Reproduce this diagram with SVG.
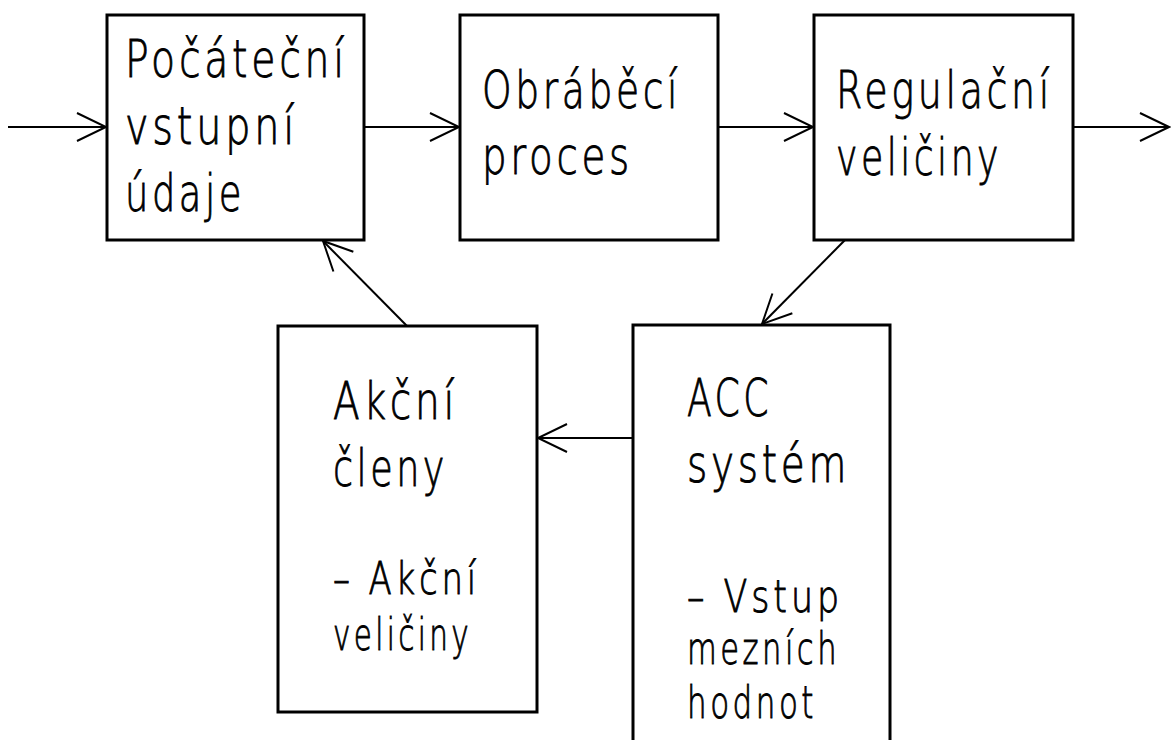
<svg xmlns="http://www.w3.org/2000/svg" width="1171" height="740" viewBox="0 0 1171 740">
<style>
.box{fill:#fff;stroke:#000;stroke-width:3}
.con{fill:none;stroke:#000;stroke-width:2;marker-end:url(#arr)}
text{font-family:"DejaVu Sans",sans-serif;font-weight:200;fill:#000;stroke:#000;stroke-width:0.9;letter-spacing:5px}
.m{font-size:52px}
.s{font-size:44px}
</style>
<defs>
<marker id="arr" markerUnits="userSpaceOnUse" markerWidth="40" markerHeight="40" viewBox="-35 -20 40 40" refX="0" refY="0" orient="auto" overflow="visible">
<path d="M-29,-14 L0,0 L-29,14" fill="none" stroke="#000" stroke-width="2"/>
</marker>
</defs>
<rect width="1171" height="740" fill="#fff"/>
<g id="connectors">
<line class="con" x1="8" y1="127" x2="106" y2="127"/>
<line class="con" x1="364" y1="127" x2="459" y2="127"/>
<line class="con" x1="718" y1="127" x2="813" y2="127"/>
<line class="con" x1="1073" y1="127" x2="1169" y2="127"/>
<line class="con" x1="845" y1="240" x2="762" y2="324"/>
<line class="con" x1="633" y1="438" x2="538" y2="438"/>
<line class="con" x1="407" y1="326" x2="323" y2="241"/>
</g>
<g id="pocatecni">
<rect class="box" x="107" y="15" width="257" height="225"/>
<text class="m" x="125" y="77" textLength="223" lengthAdjust="spacingAndGlyphs">Počáteční</text>
<text class="m" x="125" y="144" textLength="173" lengthAdjust="spacingAndGlyphs">vstupní</text>
<text class="m" x="125" y="211" textLength="120" lengthAdjust="spacingAndGlyphs">údaje</text>
</g>
<g id="obrabeci">
<rect class="box" x="460" y="15" width="258" height="225"/>
<text class="m" x="482" y="108" textLength="199" lengthAdjust="spacingAndGlyphs">Obráběcí</text>
<text class="m" x="482" y="174" textLength="151" lengthAdjust="spacingAndGlyphs">proces</text>
</g>
<g id="regulacni">
<rect class="box" x="814" y="15" width="259" height="225"/>
<text class="m" x="836" y="108" textLength="217" lengthAdjust="spacingAndGlyphs">Regulační</text>
<text class="m" x="836" y="175" textLength="166" lengthAdjust="spacingAndGlyphs">veličiny</text>
</g>
<g id="akcni">
<rect class="box" x="278" y="326" width="259" height="386"/>
<text class="m" x="333" y="419" textLength="125" lengthAdjust="spacingAndGlyphs">Akční</text>
<text class="m" x="333" y="486" textLength="115" lengthAdjust="spacingAndGlyphs">členy</text>
<text class="s" x="333" y="594" textLength="147" lengthAdjust="spacingAndGlyphs">– Akční</text>
<text class="s" x="333" y="650" textLength="139" lengthAdjust="spacingAndGlyphs">veličiny</text>
</g>
<g id="acc">
<rect class="box" x="633" y="325" width="257" height="440"/>
<text class="m" x="687" y="416" textLength="85" lengthAdjust="spacingAndGlyphs">ACC</text>
<text class="m" x="687" y="482" textLength="163" lengthAdjust="spacingAndGlyphs">systém</text>
<text class="s" x="687" y="612" textLength="156" lengthAdjust="spacingAndGlyphs">– Vstup</text>
<text class="s" x="687" y="664" textLength="153" lengthAdjust="spacingAndGlyphs">mezních</text>
<text class="s" x="687" y="718" textLength="130" lengthAdjust="spacingAndGlyphs">hodnot</text>
</g>
</svg>
